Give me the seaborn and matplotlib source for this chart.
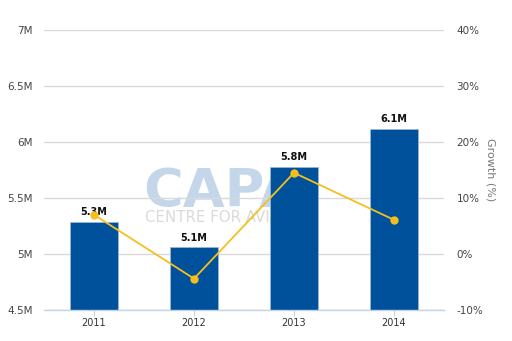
import matplotlib
matplotlib.use("Agg")
import matplotlib.pyplot as plt
import seaborn as sns
import pandas as pd

# Passenger totals (millions) and year-on-year growth (%)
years = ["2011", "2012", "2013", "2014"]
passengers_m = [5.29, 5.06, 5.78, 6.12]
growth_pct = [7.0, -4.4, 14.5, 6.1]

left_ticks = [4.5, 5.0, 5.5, 6.0, 6.5, 7.0]
left_labels = ["4.5M", "5M", "5.5M", "6M", "6.5M", "7M"]
right_ticks = [-10, 0, 10, 20, 30, 40]
right_labels = ["-10%", "0%", "10%", "20%", "30%", "40%"]

bar_color = "#00519c"
line_color = "#f6bf1c"
grid_color = "#d9d9d9"
axis_color = "#c3d3e6"
text_color = "#444444"

sns.set_theme(style="white")
plt.rcParams["font.family"] = ["DejaVu Sans"]

df = pd.DataFrame({"year": years, "passengers": passengers_m, "growth": growth_pct})

fig = plt.figure(figsize=(5.12, 3.41), dpi=100)
ax = fig.add_axes([44 / 512, 31 / 341, 400 / 512, 280 / 341])

# Watermark behind the bars and grid
ax.text(0.2475, 0.368, "CAPA", transform=ax.transAxes, fontsize=39,
        fontweight="bold", color="#c4d7ea", zorder=0.2, ha="left", va="baseline")
ax.text(0.2525, 0.314, "CENTRE FOR AVIATION", transform=ax.transAxes, fontsize=10.8,
        color="#dadada", zorder=0.2, ha="left", va="baseline")

sns.barplot(data=df, x="year", y="passengers", color=bar_color, width=0.48,
            saturation=1, ax=ax, edgecolor="#9fb9d8", linewidth=0.5, zorder=2)

ax.set_ylim(4.5, 7.0)
ax.set_xlim(-0.5, 3.5)
ax.set_yticks(left_ticks)
ax.set_yticklabels(left_labels)
ax.set_axisbelow(True)
ax.yaxis.grid(True, color=grid_color, linewidth=1, zorder=0.5)
ax.xaxis.grid(False)
for side in ["top", "right", "left"]:
    ax.spines[side].set_visible(False)
ax.spines["bottom"].set_color(axis_color)
ax.spines["bottom"].set_linewidth(1)
ax.tick_params(axis="y", length=0, pad=8, labelsize=7.5, labelcolor=text_color)
ax.tick_params(axis="x", length=4, width=0.8, color=axis_color, pad=2,
               labelsize=7, labelcolor="#333333", bottom=True)
ax.set_xlabel("")
ax.set_ylabel("")

ax.bar_label(ax.containers[0], labels=[f"{v:.1f}M" for v in passengers_m],
             padding=3, fontsize=7, fontweight="bold", color="#111111")

ax2 = ax.twinx()
sns.pointplot(data=df, x="year", y="growth", color=line_color, ax=ax2,
              markersize=5, linewidth=1.3, markers="o")
ax2.set_ylim(-10, 40)
ax2.set_xlim(-0.5, 3.5)
ax2.set_yticks(right_ticks)
ax2.set_yticklabels(right_labels)
for side in ["top", "right", "left", "bottom"]:
    ax2.spines[side].set_visible(False)
ax2.tick_params(axis="y", length=0, pad=9, labelsize=7.5, labelcolor=text_color)
ax2.set_xlabel("")
ax2.set_ylabel("Growth (%)", rotation=270, color="#777777", fontsize=8, labelpad=9)
ax2.grid(False)

fig.savefig("out.png", dpi=100)
